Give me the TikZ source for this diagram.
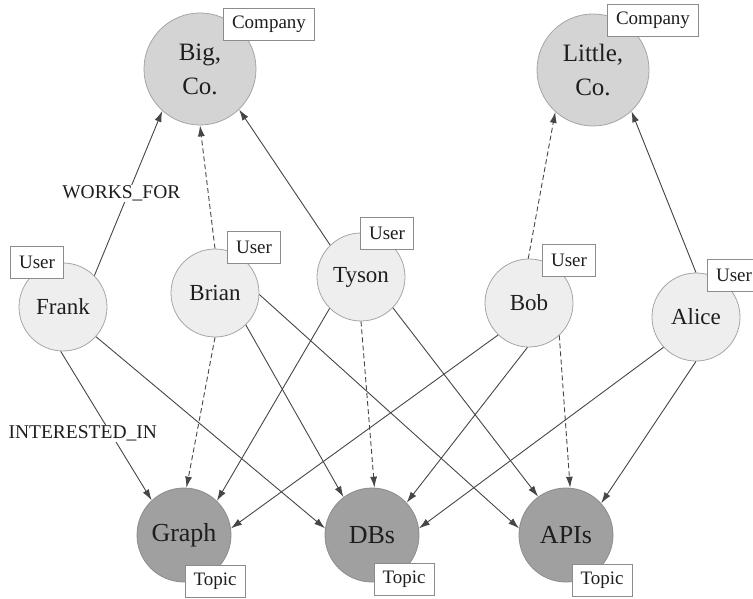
\documentclass[tikz,border=0pt]{standalone}
\usepackage{fontspec}
\setmainfont{Liberation Serif}
\usetikzlibrary{arrows.meta}
\definecolor{userfill}{RGB}{238,238,238}
\definecolor{compfill}{RGB}{212,212,212}
\definecolor{topicfill}{RGB}{160,160,160}
\definecolor{rimc}{RGB}{165,165,165}
\definecolor{boxrim}{RGB}{140,140,140}
\definecolor{edgec}{RGB}{70,70,70}
\definecolor{txt}{RGB}{30,30,30}
\tikzset{
  usernode/.style={circle, draw=rimc, fill=userfill, line width=0.8pt, minimum size=88pt, inner sep=0pt, text=txt, font=\fontsize{23}{28}\selectfont},
  compnode/.style={circle, draw=rimc, fill=compfill, line width=0.8pt, minimum size=112pt, inner sep=0pt, text=txt, align=center, font=\fontsize{25}{34}\selectfont},
  topicnode/.style={circle, draw=boxrim, fill=topicfill, line width=0.8pt, minimum size=94pt, inner sep=0pt, text=txt, font=\fontsize{26}{30}\selectfont},
  tagbox/.style={draw=boxrim, fill=white, line width=0.8pt, minimum height=32pt, inner xsep=8.5pt, inner ysep=0pt, text=txt, font=\fontsize{19}{22}\selectfont},
  rel/.style={draw=edgec, line width=0.9pt, -{Latex[length=11pt,width=7pt]}},
  reldash/.style={rel, dash pattern=on 5pt off 3pt},
  edgelabel/.style={fill=white, text=txt, inner sep=1pt, font=\fontsize{19.5}{22}\selectfont},
}
\begin{document}
\begin{tikzpicture}[x=1pt, y=-1pt]
\useasboundingbox (0,0) rectangle (753,599);
% nodes
\node[compnode] (big) at (200,69) {Big,\\Co.};
\node[compnode] (little) at (593,70) {Little,\\Co.};
\node[usernode] (frank) at (63,307) {Frank};
\node[usernode] (brian) at (215,293) {Brian};
\node[usernode] (tyson) at (361,277) {Tyson};
\node[usernode] (bob) at (529,303) {Bob};
\node[usernode] (alice) at (696,317) {Alice};
\node[topicnode] (graph) at (184,535) {Graph};
\node[topicnode] (dbs) at (372,535) {DBs};
\node[topicnode] (apis) at (566,535) {APIs};
% edges
\draw[rel] (frank.45) -- node[edgelabel, pos=0.5, xshift=-7pt] {WORKS\_FOR} (big.228);
\draw[reldash] (brian.90) -- (big.270);
\draw[rel] (tyson.134) -- (big.314);
\draw[reldash] (bob.91) -- (little.228);
\draw[rel] (alice.90) -- (little.313);
\draw[rel] (frank.267) -- node[edgelabel, pos=0.55, xshift=-28pt] {INTERESTED\_IN} (graph.133);
\draw[rel] (frank.318) -- (dbs.172);
\draw[reldash] (brian.270) -- (graph.87);
\draw[rel] (brian.314) -- (dbs.127);
\draw[rel] (brian.358) -- (apis.172);
\draw[rel] (tyson.225) -- (graph.46);
\draw[reldash] (tyson.270) -- (dbs.87);
\draw[rel] (tyson.316) -- (apis.126);
\draw[rel] (bob.226) -- (graph.8);
\draw[rel] (bob.268) -- (dbs.43);
\draw[reldash] (bob.313) -- (apis.85);
\draw[rel] (alice.223) -- (dbs.8);
\draw[rel] (alice.270) -- (apis.42);
% tags
\node[tagbox] (tbig) at (269,24) {Company};
\node[tagbox] (tlittle) at (653,20) {Company};
\node[tagbox] (tfrank) at (37,262) {User};
\node[tagbox] (tbrian) at (254,247) {User};
\node[tagbox] (ttyson) at (387,233) {User};
\node[tagbox] (tbob) at (569,260) {User};
\node[tagbox] (talice) at (734,275) {User};
\node[tagbox] (tgraph) at (215,581) {Topic};
\node[tagbox] (tdbs) at (404,579) {Topic};
\node[tagbox] (tapis) at (602,580) {Topic};
\end{tikzpicture}
\end{document}
